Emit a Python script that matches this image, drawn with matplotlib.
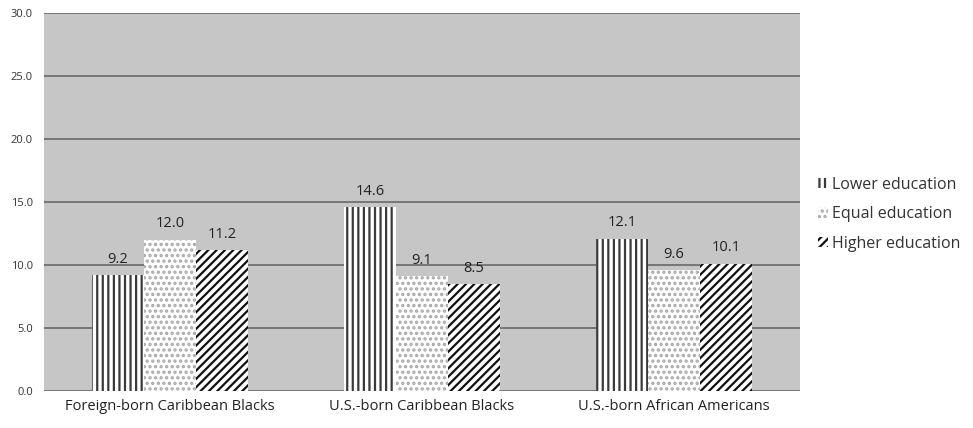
import matplotlib
matplotlib.use("Agg")
import matplotlib.pyplot as plt
import numpy as np

categories = ["Foreign-born Caribbean Blacks", "U.S.-born Caribbean Blacks", "U.S.-born African Americans"]
series_names = ["Lower education", "Equal education", "Higher education"]
lower = [9.2, 14.6, 12.1]
equal = [12.0, 9.1, 9.6]
higher = [11.2, 8.5, 10.1]
y_ticks = [0, 5, 10, 15, 20, 25, 30]

plt.rcParams["font.family"] = ["Open Sans", "DejaVu Sans"]
plt.rcParams["hatch.linewidth"] = 1.6

fig = plt.figure(figsize=(9.73, 4.28), dpi=100)
ax = fig.add_axes([0.0452, 0.0864, 0.7768, 0.8832])
ax.set_facecolor("#c6c6c6")

x = np.arange(len(categories))
w = 0.206
styles = [
    dict(hatch="|||", edgecolor="#3a3a3a"),
    dict(hatch="...", edgecolor="#a8a8a8"),
    dict(hatch="////", edgecolor="#111111"),
]
for i, (vals, st) in enumerate(zip([lower, equal, higher], styles)):
    bars = ax.bar(x + (i - 1) * w, vals, w, color="white", linewidth=0,
                  label=series_names[i], zorder=3, **st)
    for b, v in zip(bars, vals):
        ax.annotate(f"{v:.1f}", (b.get_x() + b.get_width() / 2, v),
                    xytext=(0, 6), textcoords="offset points",
                    ha="center", va="bottom", fontsize=10.5, color="#222222")

ax.set_xlim(-0.5, 2.5)
ax.set_ylim(0, 30)
ax.set_yticks(y_ticks)
ax.set_yticklabels([f"{t:.1f}" for t in y_ticks], fontsize=8, color="#333333")
ax.set_xticks(x)
ax.set_xticklabels(categories, fontsize=10.5, color="#222222")
ax.tick_params(axis="y", length=0, pad=8)
ax.tick_params(axis="x", length=0, pad=6)
ax.yaxis.grid(True, color="#707070", linewidth=1.3, zorder=1)
ax.set_axisbelow(True)
for s in ax.spines.values():
    s.set_visible(False)

leg = ax.legend(loc="center left", bbox_to_anchor=(1.005, 0.468), frameon=False,
                fontsize=11.5, handlelength=0.6, handleheight=0.6,
                handletextpad=0.3, labelspacing=0.85, labelcolor="#333333")

fig.savefig("out.png", dpi=100, facecolor="white")
